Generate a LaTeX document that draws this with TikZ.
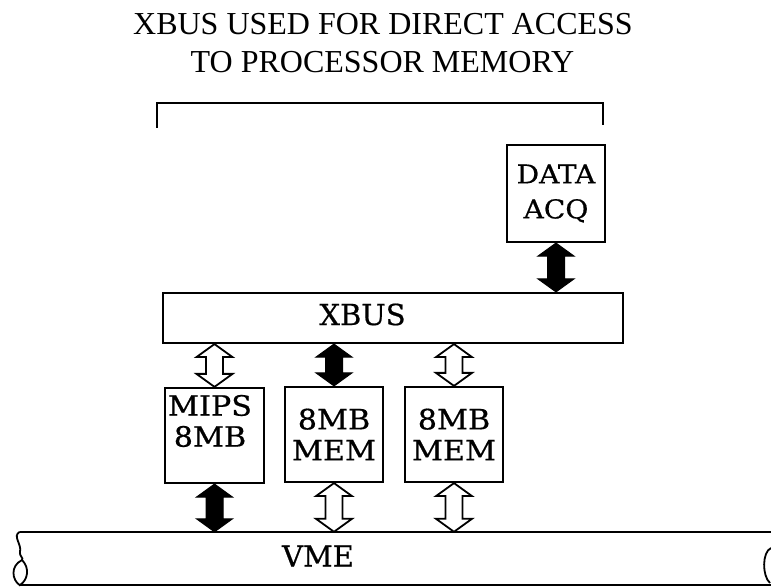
\documentclass[tikz,border=0pt]{standalone}
\usepackage{fontspec}
\setmainfont{Liberation Serif}
\newfontfamily\boxfont[FakeStretch=1.08,FakeBold=0.6]{DejaVu Serif}
\newfontfamily\busfont[FakeBold=0.6]{DejaVu Serif}
\usetikzlibrary{calc}
% double-headed block arrow between two points (top, bottom)
\newcommand\dbarrow[3]{%
  \path[#1] let \p1=#2, \p2=#3 in
    (\x1,\y1) -- (\x1+18pt,\y1-13pt) -- (\x1+8.5pt,\y1-13pt) --
    (\x1+8.5pt,\y2+13pt) -- (\x1+18pt,\y2+13pt) -- (\x1,\y2) --
    (\x1-18pt,\y2+13pt) -- (\x1-8.5pt,\y2+13pt) --
    (\x1-8.5pt,\y1-13pt) -- (\x1-18pt,\y1-13pt) -- cycle;}
\begin{document}
\begin{tikzpicture}[x=1pt,y=1pt,
  box/.style={draw, line width=2.2pt, rectangle, inner sep=0pt, align=center},
  boxtxt/.style={font=\boxfont\fontsize{28}{31}\selectfont, align=center, inner sep=0pt},
  datatxt/.style={font=\boxfont\fontsize{26}{35}\selectfont, align=center, inner sep=0pt},
  bustxt/.style={font=\busfont\fontsize{29}{34}\selectfont, inner sep=0pt},
  titletxt/.style={font=\fontsize{32}{38}\selectfont, inner sep=0pt, anchor=base},
  blackarr/.style={fill=black, draw=black, line width=1pt, line join=miter},
  hollowarr/.style={fill=white, draw=black, line width=1.8pt, line join=miter},
  edge/.style={line width=2.2pt, line cap=butt}]
\useasboundingbox (0,0) rectangle (771,588);
% title
\node[titletxt] (t1) at (383,553) {XBUS USED FOR DIRECT ACCESS};
\node[titletxt] (t2) at (382.5,515) {TO PROCESSOR MEMORY};
% bracket
\draw[edge] (157,460) -- (157,485) -- (603,485) -- (603,463);
% boxes
\node[box, minimum width=98, minimum height=97, datatxt] (data) at (556,394.5) {DATA\\ACQ};
\node[box, minimum width=460, minimum height=50] (xbus) at (393,270) {};
\node[bustxt] (xbustxt) at (362.5,273.5) {XBUS};
\node[box, minimum width=99, minimum height=95] (mips) at (214.5,152.5) {};
\node[boxtxt] (mipstxt) at (210,167) {MIPS\\8MB};
\node[box, minimum width=98, minimum height=95, boxtxt] (mem1) at (334,153.5) {8MB\\MEM};
\node[box, minimum width=98, minimum height=95, boxtxt] (mem2) at (454,153.5) {8MB\\MEM};
% VME bus
\node[minimum width=751, minimum height=53, inner sep=0pt] (vme) at (395.5,29.5) {};
\node[bustxt] (vmetxt) at (318,32) {VME};
\draw[edge] (vme.north west) -- (vme.north east);
\draw[edge] (vme.south west) -- (vme.south east);
\draw[line width=1.8pt] (vme.north west) .. controls (12,52) and (22,44) .. (20,36)
   .. controls (19,32) and (24,30) .. (22,28);
\draw[line width=1.8pt] (22,28) .. controls (10,22) and (12,8) .. (vme.south west)
   .. controls (28,8) and (30,20) .. (22,28);
\draw[line width=1.8pt] (771,40) .. controls (762,36) and (762,12) .. (770,5);
% arrows
\dbarrow{blackarr}{(data.south)}{(data.south |- xbus.north)}
\dbarrow{hollowarr}{(xbus.south -| mips.north)}{(mips.north)}
\dbarrow{blackarr}{(xbus.south -| mem1.north)}{(mem1.north)}
\dbarrow{hollowarr}{(xbus.south -| mem2.north)}{(mem2.north)}
\dbarrow{blackarr}{(mips.south)}{(mips.south |- vme.north)}
\dbarrow{hollowarr}{(mem1.south)}{(mem1.south |- vme.north)}
\dbarrow{hollowarr}{(mem2.south)}{(mem2.south |- vme.north)}
\end{tikzpicture}
\end{document}
